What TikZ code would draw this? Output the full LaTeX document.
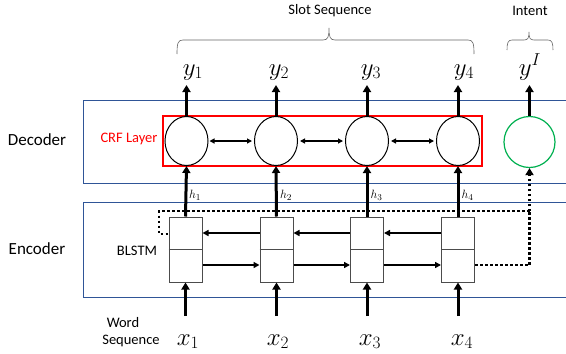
\documentclass[tikz,border=0pt]{standalone}
\usepackage{fontspec}
\setmainfont{Carlito}
\usetikzlibrary{arrows.meta,shapes.geometric}
\definecolor{boxblue}{RGB}{47,85,151}
\definecolor{crfred}{RGB}{255,0,0}
\definecolor{intgreen}{RGB}{0,176,80}
\begin{document}
\begin{tikzpicture}[x=1pt,y=-1pt,
 lbl/.style={font=\fontsize{14.5}{16}\selectfont, inner sep=0},
 big/.style={font=\fontsize{17}{19}\selectfont, inner sep=0},
 mathlbl/.style={font=\fontsize{23}{26}\selectfont, inner sep=0, anchor=base},
 hlbl/.style={font=\fontsize{13}{14}\selectfont, inner sep=0},
 cell/.style={ellipse, draw, line width=1pt, minimum width=43pt, minimum height=49pt, inner sep=0},
 intentcell/.style={circle, draw=intgreen, line width=1.2pt, minimum size=51pt, inner sep=0},
 lstm/.style={rectangle, draw=black!70, line width=1pt, minimum width=33pt, minimum height=65pt, inner sep=0},
 thickarr/.style={line width=3pt, -{Triangle[length=7pt,width=8pt]}},
 thinarr/.style={line width=2pt, -{Triangle[length=6pt,width=6pt]}},
 duoarr/.style={line width=1.2pt, {Triangle[length=5pt,width=5pt]}-{Triangle[length=5pt,width=5pt]}},
 dotline/.style={line width=2.5pt, dash pattern=on 2.5pt off 2.5pt},
 layerbox/.style={draw=boxblue, line width=1pt},
 crfbox/.style={draw=crfred, line width=1.2pt},
 bracepath/.style={draw=black!60, line width=0.6pt}
]
\useasboundingbox (0,0) rectangle (566,354);

% layer boxes
\draw[layerbox] (83,100) rectangle (575,183);
\draw[layerbox] (83,202) rectangle (575,297);
\draw[crfbox] (163,116) rectangle (482,166);

% labels
\node[big] (dec) at (37,140) {Decoder};
\node[big] (enc) at (37,249) {Encoder};
\node[lbl, text=crfred] (crf) at (129,139) {CRF Layer};
\node[lbl] (blstm) at (137,251) {BLSTM};
\node[lbl] (word) at (123,323) {Word};
\node[lbl] (seq) at (131,341) {Sequence};
\node[lbl] (slot) at (330,11) {Slot Sequence};
\node[lbl] (intent) at (530,11) {Intent};

% braces
\draw[bracepath] (177,54) .. controls (177,43) and (178,40) .. (183,40) -- (323,40)
  .. controls (328,40) and (329,37) .. (329,28) .. controls (329,37) and (330,40) .. (335,40)
  -- (468,40) .. controls (473,40) and (474,43) .. (474,54);
\draw[bracepath] (507,50) .. controls (507,43) and (508,40) .. (512,40) -- (524,40)
  .. controls (528,40) and (529,38) .. (529,32) .. controls (529,38) and (530,40) .. (534,40)
  -- (548,40) .. controls (552,40) and (553,43) .. (553,50);

% decoder cells
\node[cell] (c1) at (186.5,141) {};
\node[cell] (c2) at (276,141) {};
\node[cell] (c3) at (367,141) {};
\node[cell] (c4) at (458,141) {};
\node[intentcell] (ci) at (529.5,142) {};

\draw[duoarr] ([xshift=1pt]c1.east) -- ([xshift=-2pt]c2.west);
\draw[duoarr] ([xshift=2pt]c2.east) -- ([xshift=-2pt]c3.west);
\draw[duoarr] ([xshift=2pt]c3.east) -- ([xshift=-2pt]c4.west);

% outputs
\node[mathlbl] (y1) at (193,75) {$y_1$};
\node[mathlbl] (y2) at (279,75) {$y_2$};
\node[mathlbl] (y3) at (371,75) {$y_3$};
\node[mathlbl] (y4) at (464,75) {$y_4$};
\node[mathlbl] (yI) at (530,75) {$y^I$};
\coordinate (t1) at (186.5,85);
\coordinate (t2) at (276,85);
\coordinate (t3) at (367,85);
\coordinate (t4) at (458,85);
\coordinate (tI) at (529.5,85);
\draw[thickarr] (c1.north) -- (t1);
\draw[thickarr] (c2.north) -- (t2);
\draw[thickarr] (c3.north) -- (t3);
\draw[thickarr] (c4.north) -- (t4);
\draw[thickarr] (ci.north) -- (tI);

% BLSTM cells
\node[lstm] (b1) at (185.5,249.5) {};
\node[lstm] (b2) at (276.5,249.5) {};
\node[lstm] (b3) at (367,249.5) {};
\node[lstm] (b4) at (458,249.5) {};
\foreach \b in {b1,b2,b3,b4}{\draw[black!70, line width=1pt] (\b.west) -- (\b.east);}

\draw[thinarr] ([yshift=16.5pt]b2.west) -- ([yshift=16.5pt]b1.east);
\draw[thinarr] ([yshift=16.5pt]b3.west) -- ([yshift=16.5pt]b2.east);
\draw[thinarr] ([yshift=16.5pt]b4.west) -- ([yshift=16.5pt]b3.east);
\draw[thinarr] ([yshift=-15.5pt]b1.east) -- ([yshift=-15.5pt]b2.west);
\draw[thinarr] ([yshift=-15.5pt]b2.east) -- ([yshift=-15.5pt]b3.west);
\draw[thinarr] ([yshift=-15.5pt]b3.east) -- ([yshift=-15.5pt]b4.west);

% hidden states
\draw[thickarr] (b1.north) -- (c1.south);
\draw[thickarr] (b2.north) -- (c2.south);
\draw[thickarr] (b3.north) -- (c3.south);
\draw[thickarr] (b4.north) -- (c4.south);
\node[hlbl, anchor=west] (h1) at (189,195) {$h_1$};
\node[hlbl, anchor=west] (h2) at (280,195) {$h_2$};
\node[hlbl, anchor=west] (h3) at (370.5,195) {$h_3$};
\node[hlbl, anchor=west] (h4) at (461.5,195) {$h_4$};

% dotted intent path
\coordinate (dr) at (529.5,265);
\coordinate (dt) at (529.5,211);
\coordinate (dl) at (159,211);
\coordinate (dl2) at (159,234);
\draw[dotline] ([yshift=-15.5pt]b4.east) -- (dr) -- (dt);
\draw[dotline, -{Triangle[length=7pt,width=8pt]}] (dt) -- (ci.south);
\draw[dotline] (dt) -- (dl) -- (dl2) -- (b1.west |- dl2);

% inputs
\node[mathlbl] (x1) at (188,345) {$x_1$};
\node[mathlbl] (x2) at (278,345) {$x_2$};
\node[mathlbl] (x3) at (370,345) {$x_3$};
\node[mathlbl] (x4) at (462,345) {$x_4$};
\coordinate (s1) at (185.5,316);
\coordinate (s2) at (276.5,316);
\coordinate (s3) at (367,316);
\coordinate (s4) at (458,316);
\draw[thickarr] (s1) -- (b1.south);
\draw[thickarr] (s2) -- (b2.south);
\draw[thickarr] (s3) -- (b3.south);
\draw[thickarr] (s4) -- (b4.south);
\end{tikzpicture}
\end{document}
